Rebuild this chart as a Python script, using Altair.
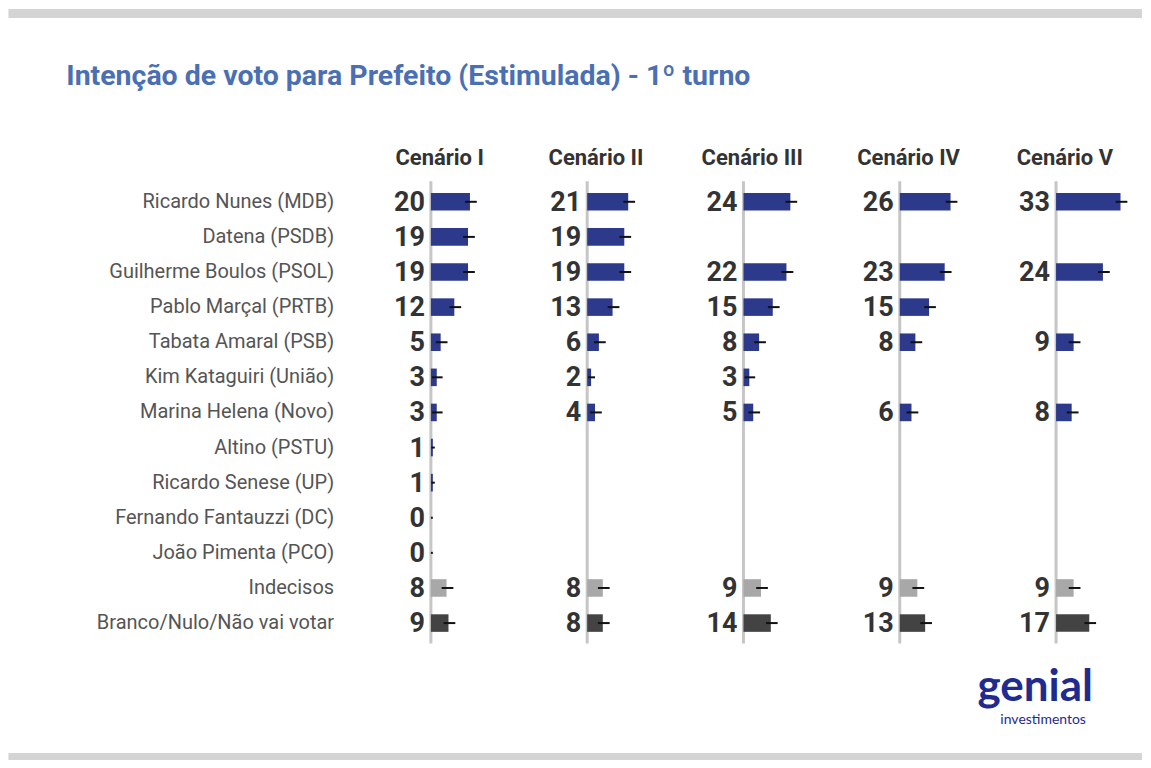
import altair as alt
import pandas as pd

candidates = [
    "Ricardo Nunes (MDB)", "Datena (PSDB)", "Guilherme Boulos (PSOL)",
    "Pablo Marçal (PRTB)", "Tabata Amaral (PSB)", "Kim Kataguiri (União)",
    "Marina Helena (Novo)", "Altino (PSTU)", "Ricardo Senese (UP)",
    "Fernando Fantauzzi (DC)", "João Pimenta (PCO)", "Indecisos",
    "Branco/Nulo/Não vai votar",
]
groups = ["cand"] * 11 + ["indec", "branco"]
scenarios = ["Cenário I", "Cenário II", "Cenário III", "Cenário IV", "Cenário V"]
cen1 = [20, 19, 19, 12, 5, 3, 3, 1, 1, 0, 0, 8, 9]
cen2 = [21, 19, 19, 13, 6, 2, 4, None, None, None, None, 8, 8]
cen3 = [24, None, 22, 15, 8, 3, 5, None, None, None, None, 9, 14]
cen4 = [26, None, 23, 15, 8, None, 6, None, None, None, None, 9, 13]
cen5 = [33, None, 24, None, 9, None, 8, None, None, None, None, 9, 17]
series = [cen1, cen2, cen3, cen4, cen5]

PANEL = 80          # x units between panel zero lines
PX = 1.956          # px per unit
XMIN, XMAX = -36, 4 * PANEL + 44
W = (XMAX - XMIN) * PX
STEP = 35.15
H = STEP * len(candidates)
L = 431 - 36 * PX                # page x of plot left
T = 201 - STEP / 2               # page y of plot top

rows = []
for si, (scen, vals) in enumerate(zip(scenarios, series)):
    off = si * PANEL
    for c, g, v in zip(candidates, groups, vals):
        if v is None:
            continue
        lo = v - min(2.5, v * 0.8)
        hi = v + max(1.0, min(3.5, float(v)))
        rows.append({"cand": c, "grp": g, "scen": scen, "v": v,
                     "x0": off, "x1": off + v, "elo": off + lo, "ehi": off + hi})
df = pd.DataFrame(rows)
hdr = pd.DataFrame({"scen": scenarios, "xo": [i * PANEL for i in range(5)],
                    "xh": [i * PANEL + 4.5 for i in range(5)]})

xs = alt.Scale(domain=[XMIN, XMAX], nice=False, zero=False)
ys = alt.Scale(domain=candidates, paddingInner=0.5, paddingOuter=0.25)
yenc = alt.Y("cand:N", scale=ys, sort=candidates,
             axis=alt.Axis(title=None, domain=False, ticks=False, grid=False,
                           labelFontSize=20, labelFont="Roboto", labelColor="#555555",
                           labelPadding=27, labelLimit=400))

base = alt.Chart(df)

rule = alt.Chart(hdr).mark_rule(color="#c6c6c6", strokeWidth=3).encode(
    x=alt.X("xo:Q", scale=xs, axis=None),
    y=alt.value(-3), y2=alt.value(H + 3))

bars = base.mark_bar().encode(
    x=alt.X("x0:Q", scale=xs, axis=None), x2="x1:Q", y=yenc,
    color=alt.Color("grp:N", legend=None,
                    scale=alt.Scale(domain=["cand", "indec", "branco"],
                                    range=["#2d3a8c", "#a8a8a8", "#434343"])))

err = base.mark_rule(color="#111111", strokeWidth=2).encode(
    x=alt.X("elo:Q", scale=xs, axis=None), x2="ehi:Q", y=yenc)

nums = base.mark_text(align="right", baseline="middle", dx=-6, dy=1, fontSize=27,
                      fontWeight="bold", font="Roboto", color="#333333").encode(
    x=alt.X("x0:Q", scale=xs, axis=None), y=yenc, text="v:Q")

heads = alt.Chart(hdr).mark_text(align="center", baseline="middle", fontSize=22,
                                 fontWeight="bold", font="Roboto", color="#333333").encode(
    x=alt.X("xh:Q", scale=xs, axis=None), y=alt.value(157 - T), text="scen:N")

title_df = pd.DataFrame({"t": ["Intenção de voto para Prefeito (Estimulada) - 1º turno"]})
title = alt.Chart(title_df).mark_text(align="left", baseline="middle", fontSize=28.5,
                                      fontWeight="bold", font="Roboto", color="#4a6fb3").encode(
    x=alt.value(66 - L), y=alt.value(75 - T), text="t:N")

logo_df = pd.DataFrame({"t": ["genial"]})
logo = alt.Chart(logo_df).mark_text(align="center", baseline="middle", fontSize=44,
                                    fontWeight="bold", font="Lato", color="#1f2b8f").encode(
    x=alt.value(1036 - L), y=alt.value(688 - T), text="t:N")
logo2_df = pd.DataFrame({"t": ["investimentos"]})
logo2 = alt.Chart(logo2_df).mark_text(align="center", baseline="middle", fontSize=14,
                                      font="Lato", color="#1f2b8f").encode(
    x=alt.value(1044 - L), y=alt.value(720 - T), text="t:N")

band_df = pd.DataFrame({"a": [0]})
band_top = alt.Chart(band_df).mark_rect(color="#d4d4d4").encode(
    x=alt.value(8 - L), x2=alt.value(1143 - L), y=alt.value(8 - T), y2=alt.value(17 - T))
band_bot = alt.Chart(band_df).mark_rect(color="#d4d4d4").encode(
    x=alt.value(8 - L), x2=alt.value(1143 - L), y=alt.value(753 - T), y2=alt.value(760 - T))

chart = alt.layer(band_top, band_bot, rule, bars, err, nums, heads, title, logo, logo2).properties(
    width=W, height=H, padding=0
).configure(background="white").configure_view(strokeWidth=0, stroke="transparent")

chart.save("out.html", embed_options={"renderer": "svg", "actions": False})
